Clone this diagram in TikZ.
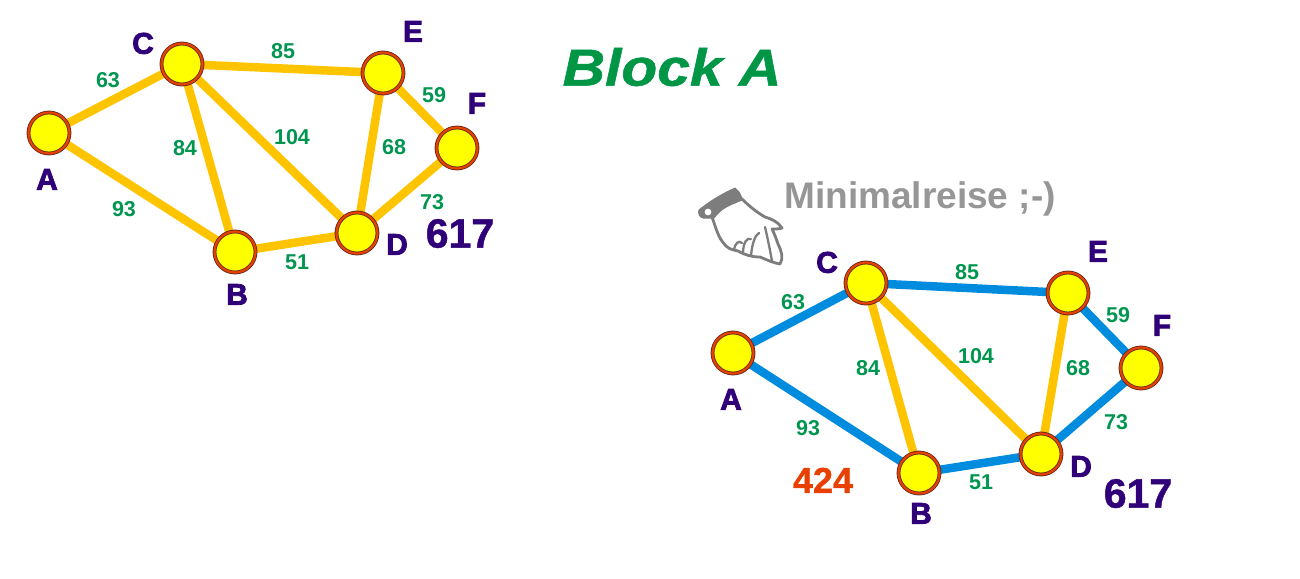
\documentclass[tikz,border=0pt]{standalone}
\usepackage{fontspec}
\setmainfont{Liberation Sans}
\newfontfamily\heavyfont{Liberation Sans Bold}[FakeBold=2.5]
\newfontfamily\semiheavy{Liberation Sans Bold}[FakeBold=1]
\newfontfamily\titlefont{Liberation Sans Bold Italic}[FakeBold=1]
\usetikzlibrary{backgrounds}
\definecolor{ylw}{RGB}{255,255,0}
\definecolor{ringc}{RGB}{232,64,0}
\definecolor{rimdark}{RGB}{90,40,30}
\definecolor{edgeY}{RGB}{255,196,0}
\definecolor{edgeB}{RGB}{0,140,222}
\definecolor{labc}{RGB}{48,0,120}
\definecolor{wtc}{RGB}{0,150,80}
\definecolor{redc}{RGB}{232,64,0}
\definecolor{grayc}{RGB}{150,150,150}
\definecolor{titlec}{RGB}{0,150,70}
\definecolor{handgray}{RGB}{125,125,125}
\tikzset{
  vert/.style={circle, minimum size=41pt, inner sep=0pt, fill=ylw, draw=rimdark, line width=0.8pt, double=ringc, double distance=2.2pt},
  ey/.style={draw=edgeY, line width=8.5pt},
  eb/.style={draw=edgeB, line width=8.5pt},
  lbl/.style={font=\fontsize{30}{30}\heavyfont, text=labc, inner sep=0pt, text height=21.5pt, text depth=0pt},
  wt/.style={font=\fontsize{21.5}{21.5}\selectfont\bfseries, text=wtc, inner sep=0pt, text height=15.4pt, text depth=0pt},
  total/.style={font=\fontsize{41}{41}\semiheavy, inner sep=0pt, text height=29.3pt, text depth=0pt},
}
\begin{document}
\begin{tikzpicture}[x=1pt, y=-1pt]
\useasboundingbox (0,0) rectangle (1300,578);
% ---------- left graph ----------
\node[vert] (a1) at (49,133) {};
\node[vert] (c1) at (182,64) {};
\node[vert] (e1) at (383,73) {};
\node[vert] (f1) at (457,148) {};
\node[vert] (d1) at (357,233) {};
\node[vert] (b1) at (235,252) {};
\begin{pgfonlayer}{background}
\draw[ey] (a1.center) -- (c1.center);
\draw[ey] (c1.center) -- (e1.center);
\draw[ey] (e1.center) -- (f1.center);
\draw[ey] (f1.center) -- (d1.center);
\draw[ey] (d1.center) -- (b1.center);
\draw[ey] (b1.center) -- (a1.center);
\draw[ey] (c1.center) -- (b1.center);
\draw[ey] (c1.center) -- (d1.center);
\draw[ey] (e1.center) -- (d1.center);
\end{pgfonlayer}
\node[lbl] (la1) at (47,179) {A};
\node[lbl] (lc1) at (143,43) {C};
\node[lbl] (le1) at (413,31) {E};
\node[lbl] (lf1) at (477,103) {F};
\node[lbl] (ld1) at (397,244) {D};
\node[lbl] (lb1) at (237,294) {B};
\node[wt] (w63a) at (108,80) {63};
\node[wt] (w85a) at (283,51) {85};
\node[wt] (w59a) at (434,95) {59};
\node[wt] (w84a) at (185,148) {84};
\node[wt] (w104a) at (292,137) {104};
\node[wt] (w68a) at (394,147) {68};
\node[wt] (w93a) at (124,209) {93};
\node[wt] (w73a) at (432,202) {73};
\node[wt] (w51a) at (297,262) {51};
\node[total, text=labc] (t617a) at (460,233) {617};
% ---------- title ----------
\node[font=\fontsize{52}{52}\titlefont, text=titlec, inner sep=0pt, text height=37.2pt, text depth=0pt] (title) at (672,67) {\scalebox{1.13}[1]{Block A}};
% ---------- right graph ----------
\node[vert] (a2) at (733,353) {};
\node[vert] (c2) at (866,283) {};
\node[vert] (e2) at (1068,293) {};
\node[vert] (f2) at (1141,368) {};
\node[vert] (d2) at (1041,454) {};
\node[vert] (b2) at (919,473) {};
\begin{pgfonlayer}{background}
\draw[ey] (c2.center) -- (b2.center);
\draw[ey] (c2.center) -- (d2.center);
\draw[ey] (e2.center) -- (d2.center);
\draw[eb] (a2.center) -- (c2.center);
\draw[eb] (c2.center) -- (e2.center);
\draw[eb] (e2.center) -- (f2.center);
\draw[eb] (f2.center) -- (d2.center);
\draw[eb] (d2.center) -- (b2.center);
\draw[eb] (b2.center) -- (a2.center);
\end{pgfonlayer}
\node[lbl] (la2) at (731,399) {A};
\node[lbl] (lc2) at (827,262) {C};
\node[lbl] (le2) at (1098,251) {E};
\node[lbl] (lf2) at (1162,325) {F};
\node[lbl] (ld2) at (1081,466) {D};
\node[lbl] (lb2) at (921,513) {B};
\node[wt] (w63b) at (793,302) {63};
\node[wt] (w85b) at (967,272) {85};
\node[wt] (w59b) at (1118,315) {59};
\node[wt] (w84b) at (868,368) {84};
\node[wt] (w104b) at (976,356) {104};
\node[wt] (w68b) at (1078,368) {68};
\node[wt] (w93b) at (808,428) {93};
\node[wt] (w73b) at (1116,422) {73};
\node[wt] (w51b) at (981,482) {51};
\node[total, text=redc, font=\fontsize{36}{36}\semiheavy, text height=25.8pt] (t424) at (823,480) {424};
\node[total, text=labc] (t617b) at (1138,493) {617};
% ---------- remark ----------
\node[font=\fontsize{37}{37}\selectfont\bfseries, text=grayc, inner sep=0pt, text height=26.5pt, text depth=0pt] (remark) at (920,195) {Minimalreise ;-)};
% ---------- hand icon ----------
\draw[handgray, line width=2.8pt, fill=white, line join=round]
  (712,217) .. controls (716,228) and (718,238) .. (726,246)
  .. controls (730,250) and (735,250) .. (738,251)
  .. controls (745,255) and (752,257) .. (760,257)
  .. controls (767,260) and (774,263) .. (780,264)
  .. controls (784,258) and (781,250) .. (778,244)
  .. controls (776,238) and (774,233) .. (772,229)
  .. controls (776,229) and (780,229) .. (782,228)
  .. controls (778,222) and (772,219) .. (765,217)
  .. controls (758,213) and (750,207) .. (742,199)
  -- (735,202)
  .. controls (727,205) and (718,210) .. (712,217) -- cycle;
\draw[handgray, line width=2.3pt, line cap=round]
  (734,250) .. controls (735,243) and (739,240) .. (742,243)
  (743,253) .. controls (743,243) and (747,237) .. (751,239)
  (751,256) .. controls (752,244) and (755,235) .. (759,233)
  (765,227) .. controls (768,240) and (770,250) .. (772,261);
\draw[handgray, fill=handgray, line width=1pt, line join=round]
  (699,210) .. controls (710,201) and (722,194) .. (735,188)
  -- (739,192) -- (743,200)
  .. controls (733,202) and (722,207) .. (714,218)
  -- (703,218) .. controls (699,217) and (698,213) .. (699,210) -- cycle;
\draw[handgray, fill=white, line width=1.3pt] (708,212) circle (4.2);
\end{tikzpicture}
\end{document}
